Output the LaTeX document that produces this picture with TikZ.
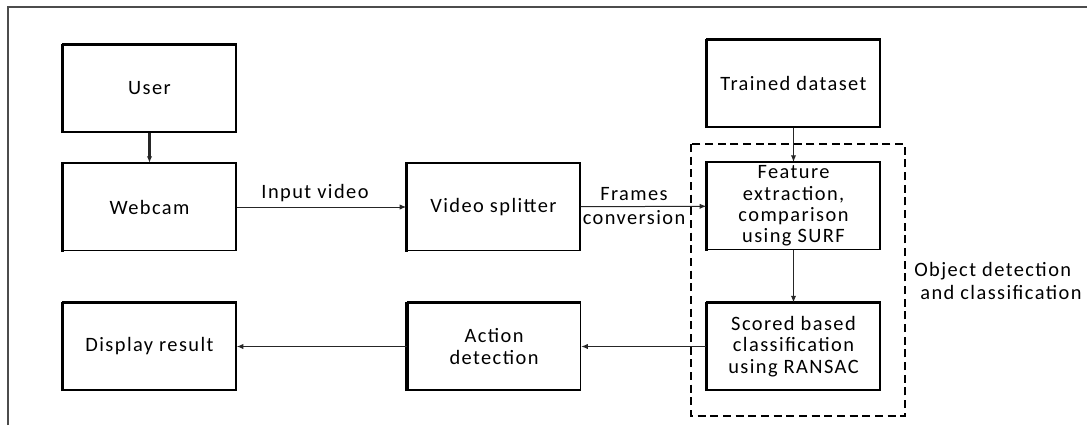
\documentclass[tikz,border=0pt]{standalone}
\usepackage{fontspec}
\setmainfont{Carlito}[LetterSpace=7]
\usetikzlibrary{arrows.meta}
\begin{document}
\begin{tikzpicture}[x=0.75pt,y=-0.75pt,
  box/.style={draw=black,line width=1.1pt,fill=white,minimum width=129.75pt,minimum height=65pt,align=center,inner sep=2pt,font=\fontsize{15.3}{16}\selectfont},
  conn/.style={draw=black!85,line width=0.75pt,-{Latex[length=5pt,width=4pt]}},
  lbl/.style={font=\fontsize{15.3}{18}\selectfont,inner sep=0pt}]
\useasboundingbox (0,0) rectangle (1087,425);
% partial frame
\draw[black!70,line width=1pt] (8,425) -- (8,7) -- (1087,7);
% nodes
\node[box] (user) at (149.5,88.5) {User};
\node[box] (webcam) at (149.5,207) {Webcam};
\node[box] (display) at (149.5,346.5) {Display result};
\node[box] (splitter) at (493.5,207) {Video splitter};
\node[box] (action) at (494,346.5) {Action\\detection};
\node[box] (trained) at (793.5,83.5) {Trained dataset};
\node[box] (feature) at (793.5,206) {Feature\\extraction,\\comparison\\using SURF};
\node[box] (scored) at (793.5,346.5) {Scored based\\classification\\using RANSAC};
% thick left and top edges
\foreach \n in {user,webcam,display,splitter,action,trained,feature,scored}{
  \draw[line width=2.6pt] ([yshift=-0.5pt]\n.south west) -- ([yshift=0.4pt]\n.north west);
  \draw[line width=1.8pt] (\n.north west) -- (\n.north east);
}
% dashed group
\coordinate (g1) at (691,144);
\coordinate (g2) at (905,416);
\draw[line width=1.6pt,dash pattern=on 6pt off 3.5pt] (g1) rectangle (g2);
\node[lbl,anchor=west,align=left] (grp) at (914,281) {Object detection\\[-1pt]\ and classification};
% connectors
\draw[conn,line width=1.6pt] (user) -- (webcam);
\draw[conn] (webcam) -- (splitter);
\node[lbl] (l1) at (315,193) {Input video};
\draw[conn] (splitter) -- (feature);
\node[lbl,align=center] (l2) at (634,206) {Frames\\conversion};
\draw[conn] (trained) -- (feature);
\draw[conn] (feature) -- (scored);
\draw[conn] (scored) -- (action);
\draw[conn] (action) -- (display);
\end{tikzpicture}
\end{document}
